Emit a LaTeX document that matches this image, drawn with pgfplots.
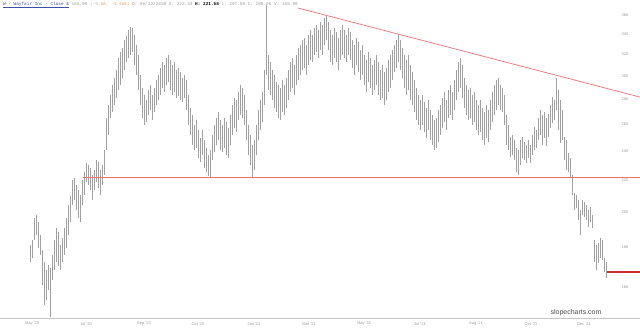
\documentclass[border=0pt]{standalone}
\usepackage{pgfplots}
\pgfplotsset{compat=1.18}
\usepackage{pgfplotstable}
\usepackage{fontspec}
\setmainfont{Liberation Sans}
\setmonofont{Liberation Mono}
\definecolor{barcol}{HTML}{A0A0A0}
\definecolor{trendcol}{HTML}{F07070}
\definecolor{lastcol}{HTML}{D42A2A}
\definecolor{titleblue}{HTML}{3B4FA8}
\definecolor{labgray}{HTML}{9A9A9A}
\definecolor{orangetxt}{HTML}{E0A070}

\pgfplotstableread{
x lo hi
30 172.5 181.4
32 174.5 184.1
34 184.1 196.5
36 186.9 198.3
38 179.8 194.2
40 176.1 186.9
42 161.0 178.7
44 151.7 172.5
46 154.0 168.4
48 158.6 170.9
50 146.3 169.4
52 163.4 176.1
54 168.4 184.1
56 172.5 190.8
58 170.4 188.6
60 168.4 181.4
62 172.5 185.2
64 176.1 190.8
66 179.8 196.5
68 186.9 204.3
70 194.2 209.9
72 204.3 220.1
74 207.4 221.4
76 201.3 216.9
78 196.5 213.7
80 194.2 210.5
82 204.3 220.1
84 210.5 225.4
86 218.8 231.5
88 216.9 230.1
90 213.7 228.1
92 207.4 223.4
94 213.7 226.7
96 218.8 233.6
98 215.0 232.2
100 210.5 226.7
102 216.9 230.1
104 223.4 240.6
106 240.6 264.7
108 251.6 275.1
110 264.7 283.4
112 269.4 292.0
114 275.1 298.2
116 280.9 305.3
118 287.7 316.5
120 292.0 322.2
122 298.2 326.0
124 305.3 333.9
126 312.7 337.9
128 316.5 344.0
130 319.3 347.1
132 322.2 346.0
134 309.9 338.9
136 300.8 328.9
138 287.7 319.3
140 275.1 300.8
142 264.7 289.4
144 259.2 283.4
146 261.5 279.2
148 267.0 287.7
150 271.0 292.0
152 263.1 283.4
154 269.4 289.4
156 275.1 296.4
158 279.2 300.8
160 283.4 307.1
162 289.4 312.7
164 286.0 309.9
166 292.0 316.5
168 294.6 319.3
170 287.7 314.6
172 283.4 309.9
174 286.0 312.7
176 280.9 305.3
178 282.5 307.1
180 279.2 303.5
182 277.6 298.2
184 280.9 300.8
186 271.0 296.4
188 259.2 283.4
190 251.6 272.6
192 244.2 267.0
194 240.6 259.2
196 242.0 263.1
198 235.0 255.4
200 232.2 249.4
202 237.1 255.4
204 228.1 247.9
206 225.4 242.0
208 222.8 237.1
210 221.4 240.6
212 233.6 251.6
214 239.2 259.2
216 244.2 264.7
218 247.9 269.4
220 240.6 263.1
222 239.2 259.2
224 242.0 264.7
226 237.1 261.5
228 235.0 256.9
230 244.2 267.0
232 251.6 275.1
234 256.9 280.9
236 254.0 279.2
238 263.1 286.0
240 267.0 292.0
242 264.7 289.4
244 259.2 283.4
246 247.9 271.0
248 237.1 259.2
250 230.1 251.6
252 222.0 244.2
254 226.7 247.9
256 237.1 259.2
258 247.9 271.0
260 255.4 279.2
262 261.5 286.0
264 275.1 305.3
266 300.8 370.7
268 287.7 319.3
270 283.4 312.7
272 279.2 305.3
274 272.6 300.8
276 269.4 294.6
278 264.7 292.0
280 263.1 289.4
282 269.4 296.4
284 267.0 292.0
286 272.6 298.2
288 279.2 305.3
290 286.0 312.7
292 289.4 316.5
294 283.4 309.9
296 292.0 319.3
298 296.4 326.0
300 300.8 328.9
302 305.3 333.9
304 307.1 335.9
306 300.8 328.9
308 309.9 338.9
310 314.6 344.0
312 312.7 338.9
314 319.3 346.0
316 322.2 349.1
318 316.5 344.0
320 324.1 352.2
322 319.3 349.1
324 328.9 356.5
326 333.9 359.7
328 324.1 352.2
330 312.7 344.0
332 309.9 338.9
334 316.5 346.0
336 312.7 341.9
338 305.3 335.9
340 314.6 344.0
342 319.3 349.1
344 316.5 344.0
346 312.7 338.9
348 319.3 346.0
350 314.6 341.9
352 307.1 333.9
354 300.8 328.9
356 309.9 335.9
358 303.5 331.9
360 296.4 324.1
362 300.8 328.9
364 292.0 319.3
366 286.0 314.6
368 294.6 322.2
370 289.4 316.5
372 283.4 309.9
374 287.7 314.6
376 292.0 319.3
378 283.4 312.7
380 279.2 305.3
382 280.9 309.9
384 275.1 303.5
386 279.2 307.1
388 286.0 314.6
390 289.4 319.3
392 296.4 324.1
394 303.5 328.9
396 307.1 333.9
398 312.7 338.9
400 305.3 333.9
402 298.2 326.0
404 289.4 319.3
406 283.4 314.6
408 287.7 319.3
410 279.2 309.9
412 275.1 303.5
414 269.4 296.4
416 263.1 289.4
418 259.2 283.4
420 255.4 279.2
422 259.2 283.4
424 254.0 277.6
426 249.4 272.6
428 255.4 279.2
430 247.9 271.0
432 244.2 267.0
434 240.6 263.1
436 242.0 264.7
438 246.4 271.0
440 251.6 275.1
442 256.9 280.9
444 261.5 286.0
446 255.4 279.2
448 264.7 287.7
450 267.0 292.0
452 263.1 286.0
454 271.0 296.4
456 279.2 305.3
458 286.0 312.7
460 289.4 316.5
462 280.9 309.9
464 272.6 298.2
466 267.0 292.0
468 263.1 287.7
470 264.7 289.4
472 259.2 283.4
474 261.5 286.0
476 255.4 279.2
478 251.6 275.1
480 254.0 279.2
482 247.9 272.6
484 244.2 269.4
486 249.4 275.1
488 246.4 271.0
490 255.4 279.2
492 261.5 286.0
494 267.0 292.0
496 271.0 296.4
498 275.1 298.2
500 271.0 292.0
502 269.4 289.4
504 259.2 283.4
506 244.2 267.0
508 240.6 259.2
510 235.7 250.1
512 237.1 251.6
514 233.6 247.9
516 225.4 242.0
518 223.4 240.6
520 230.1 247.9
522 235.0 250.1
524 233.6 246.4
526 231.5 244.2
528 235.0 247.9
530 231.5 244.2
532 237.1 251.6
534 240.6 257.7
536 242.0 255.4
538 247.9 264.7
540 251.6 271.0
542 244.2 267.0
544 249.4 269.4
546 243.5 264.7
548 250.1 268.2
550 256.9 275.1
552 260.7 281.7
554 263.1 279.2
556 271.0 298.2
558 255.4 287.7
560 245.7 279.2
562 247.9 271.0
564 233.6 250.1
566 226.7 247.9
568 225.4 238.5
570 222.0 235.0
572 210.5 223.4
574 201.3 211.8
576 202.5 210.5
578 195.4 207.4
580 186.9 201.3
582 198.3 207.4
584 197.1 206.2
586 195.4 204.3
588 191.3 201.3
590 194.2 203.1
592 190.8 198.3
594 172.5 184.1
596 168.4 181.4
598 172.0 182.5
600 174.5 185.2
602 173.5 184.1
604 167.4 174.5
606 164.4 172.5
}\bars

\begin{document}
\begin{tikzpicture}
\useasboundingbox (0,-11bp) rectangle (640bp,319bp);
\begin{axis}[
  at={(0,0)}, anchor=south west,
  scale only axis, width=640bp, height=319bp,
  xmin=0, xmax=640,
  ymode=log, ymin=145.5, ymax=376.2,
  axis line style={draw=none},
  major tick length=0pt,
  tick style={draw=none},
  xtick={32,86,144,198,254,309,364,420,476,531,584},
  xticklabels={May '20,Jul '20,Sep '20,Oct '20,Jan '21,Mar '21,May '21,Jul '21,Aug '21,Oct '21,Dec '21},
  xticklabel style={anchor=center, yshift=-5bp, font=\fontsize{4}{4}\selectfont, text=labgray},
  ytick={160,180,200,220,240,260,280,300,320,340,360},
  yticklabels={160,180,200,220,240,260,280,300,320,340,360},
  yticklabel pos=right,
  yticklabel style={anchor=center, xshift=-15bp, font=\fontsize{4}{4}\selectfont, text=labgray},
  clip=false,
]
\draw[gray!45, line width=1bp] (rel axis cs:0,0) -- (rel axis cs:1,0);
\addplot[draw=none, mark=none, forget plot,
  error bars/.cd, y dir=plus, y explicit,
  error mark=none,
  error bar style={line width=0.5bp, draw=barcol, solid}]
  table[x=x, y=lo, y error expr=\thisrow{hi}-\thisrow{lo}] {\bars};
\addplot[fill=trendcol, draw=none, mark=none, forget plot] coordinates {(83,221.2) (640,221.2) (640,222.3) (83,222.3)} -- cycle;
\addplot[color=trendcol, line width=0.7bp, mark=none, forget plot] coordinates {(298,367.3) (640,281.7)};
\addplot[color=lastcol, line width=1.6bp, mark=none, forget plot] coordinates {(607,167.4) (640,167.4)};
\end{axis}
\node[anchor=west, inner sep=0pt, font=\ttfamily\fontsize{4.4}{5}\selectfont] at (3bp,314bp)
  {\textcolor{titleblue}{\underline{W - Wayfair Inc - Close \$}} \textcolor{labgray}{165.99} \textcolor{orangetxt}{(-5.58, -3.45\%)} \textcolor{labgray}{D: 06/12/2020 O: 222.33} \textbf{H: 221.58} \textcolor{labgray}{L: 207.50 C: 208.06 V: 165.99}};
\node[anchor=center, inner sep=0pt, font=\fontsize{7}{7}\selectfont, text=black!70] at (576bp,6bp) {slopecharts.com};
\end{tikzpicture}
\end{document}
